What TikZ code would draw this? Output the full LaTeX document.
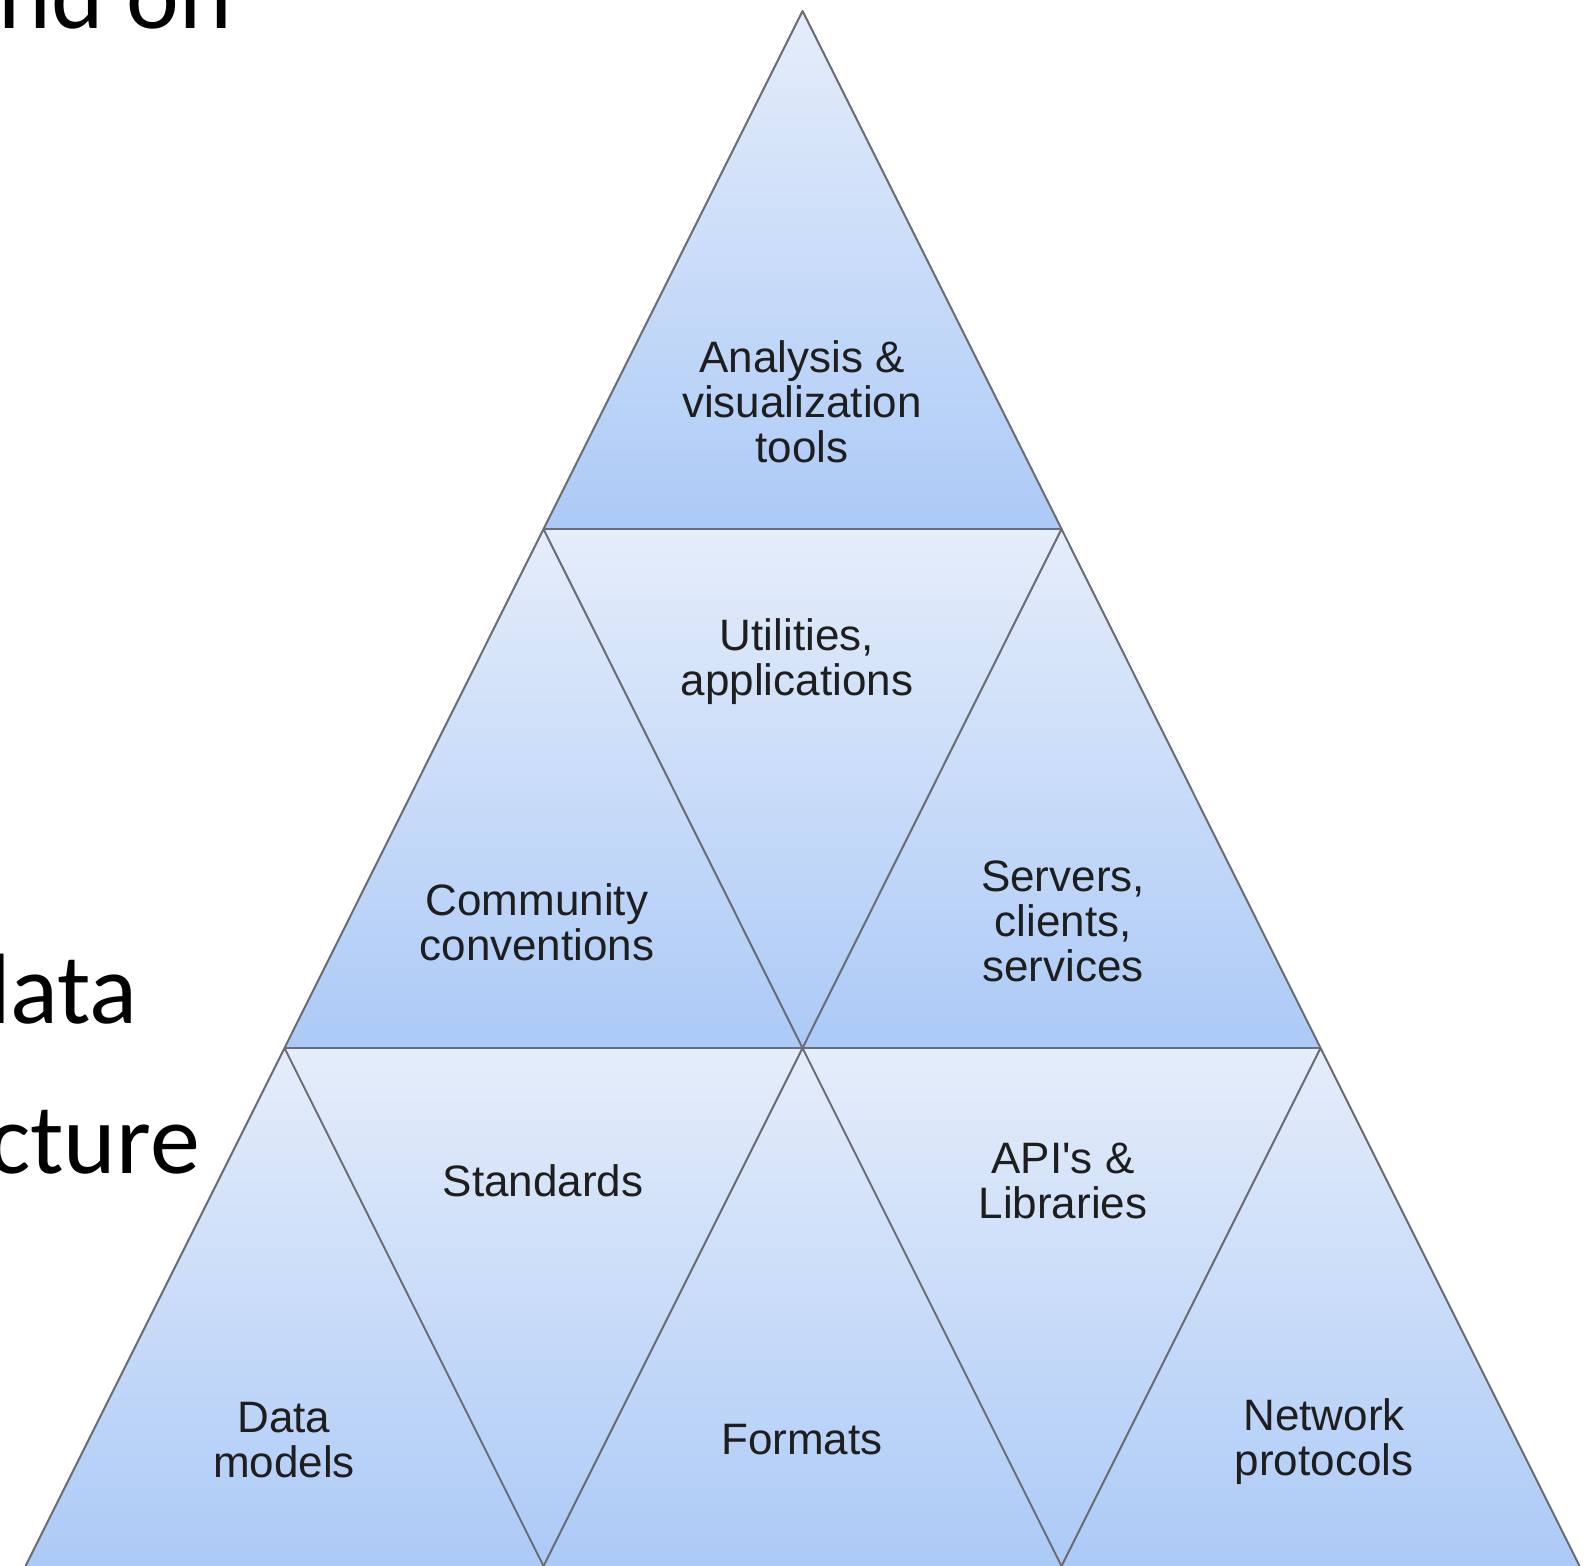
\documentclass[tikz,border=0pt]{standalone}
\usepackage{fontspec}
\setmainfont{Liberation Sans}
\newfontfamily\slidefont{Carlito}
\definecolor{ctop}{RGB}{229,237,250}
\definecolor{cbot}{RGB}{172,202,247}
\definecolor{edgegray}{RGB}{105,108,115}
\definecolor{textgray}{RGB}{30,30,30}
\begin{document}
\begin{tikzpicture}[x=1pt,y=-1pt,
  tri/.style={draw=edgegray, line width=2pt, line join=round},
  fillshade/.style={top color=ctop, bottom color=cbot, draw=none},
  lbl/.style={font=\fontsize{44}{45}\selectfont, align=center, text=textgray, inner sep=0pt},
  slide/.style={font=\slidefont\fontsize{100}{110}\selectfont, text=black, inner sep=0pt, anchor=base east}]
\useasboundingbox (0,0) rectangle (1588,1566);
% grid points of the pyramid
\foreach \i/\y in {0/11,1/529,2/1048,3/1566} {
  \foreach \j in {0,...,\i} {
    \coordinate (p\i\j) at ({802.5+(2*\j-\i)*259},\y);
  }
}
% shaded triangles
\foreach \a/\b/\c in {00/10/11, 10/20/21, 11/21/22, 20/30/31, 21/31/32, 22/32/33, 10/11/21, 20/21/31, 21/22/32} {
  \shade[fillshade] (p\a) -- (p\b) -- (p\c) -- cycle;
}
% outlines
\foreach \a/\b/\c in {00/10/11, 10/20/21, 11/21/22, 20/30/31, 21/31/32, 22/32/33} {
  \draw[tri] (p\b) -- (p\a) -- (p\c);
}
\draw[tri, line width=2.4pt] (p10) -- (p11);
\draw[tri, line width=2.4pt] (p20) -- (p22);
% labels
\node[lbl] (analysis) at (802,402) {Analysis \&\\visualization\\tools};
\node[lbl] (utilities) at (797,662) {Utilities,\\applications};
\node[lbl] (community) at (537,922) {Community\\conventions};
\node[lbl] (servers) at (1063,921) {Servers,\\clients,\\services};
\node[lbl] (standards) at (543,1181) {Standards};
\node[lbl] (apis) at (1063,1181) {API\textquotesingle s \&\\Libraries};
\node[lbl] (datamodels) at (284,1440) {Data\\models};
\node[lbl] (formats) at (802,1440) {Formats};
\node[lbl] (network) at (1324,1442) {Network\\protocols};
% cropped slide text on the left
\node[slide] (t1) at (232,28) {nd on};
\node[slide] (t2) at (138,1023) {data};
\node[slide] (t3) at (200,1173) {cture};
\end{tikzpicture}
\end{document}
